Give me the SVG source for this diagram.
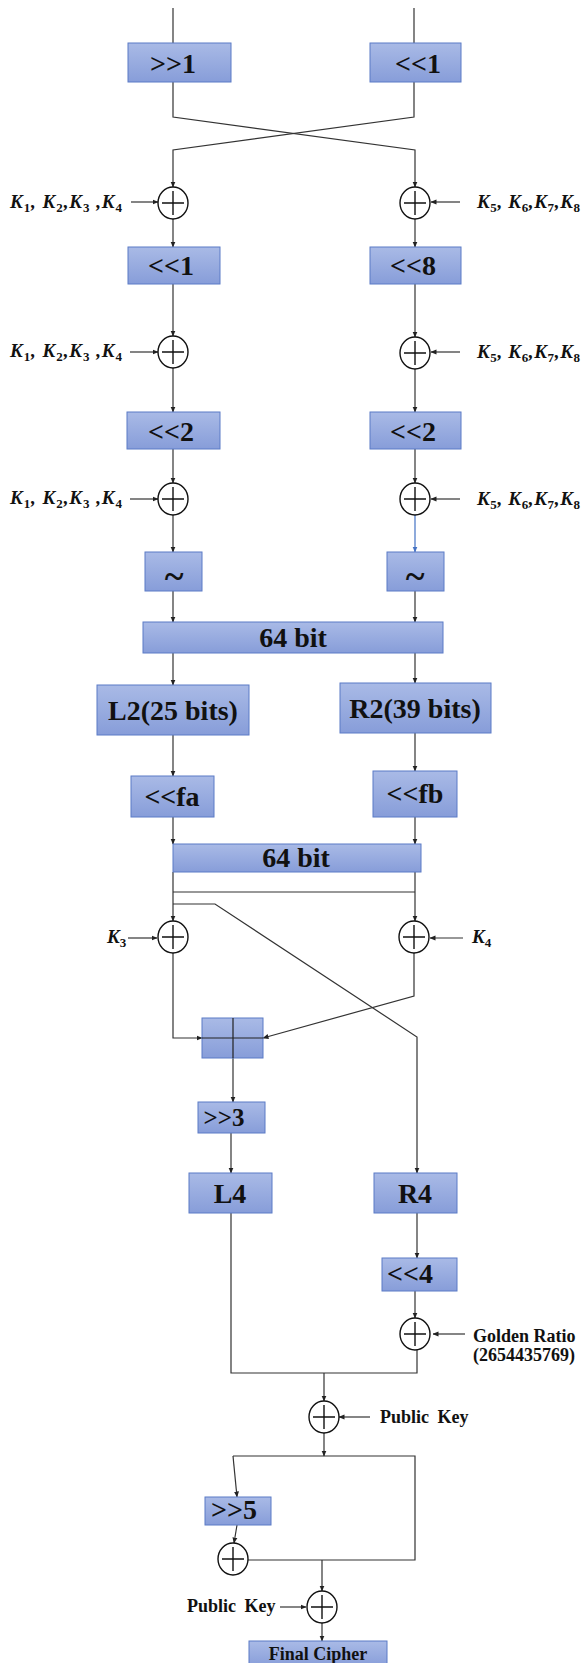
<svg xmlns="http://www.w3.org/2000/svg" width="583" height="1663" viewBox="0 0 583 1663">
<defs>
<linearGradient id="bg" x1="0" y1="0" x2="0" y2="1">
<stop offset="0" stop-color="#a9bae6"/>
<stop offset="1" stop-color="#879dd9"/>
</linearGradient>
<marker id="ah" markerUnits="userSpaceOnUse" markerWidth="6" markerHeight="6" refX="5.5" refY="3" orient="auto">
<path d="M0,0.5 L6,3 L0,5.5 z" fill="#222"/>
</marker>
<marker id="ahb" markerUnits="userSpaceOnUse" markerWidth="6" markerHeight="6" refX="5.5" refY="3" orient="auto">
<path d="M0,0.5 L6,3 L0,5.5 z" fill="#4472c4"/>
</marker>
</defs>
<style>
.box{fill:url(#bg);stroke:#5b7bc6;stroke-width:1}
.bt{font-family:"Liberation Serif","Times New Roman",serif;font-weight:bold;font-size:28px;fill:#111;text-anchor:middle}
.tl{font-size:36px}
.st{font-family:"Liberation Serif","Times New Roman",serif;font-weight:bold;font-size:18px;fill:#111}
.kl{font-family:"Liberation Serif","Times New Roman",serif;font-weight:bold;font-style:italic;font-size:19px;fill:#111}
.s{font-size:13px;font-style:normal}
.x{fill:#fff;stroke:#111;stroke-width:1.4}
.xp{stroke:#111;stroke-width:1.4}
.c{fill:none;stroke:#333;stroke-width:1.2}
.ca{fill:none;stroke:#333;stroke-width:1.2;marker-end:url(#ah)}
.cb{fill:none;stroke:#4472c4;stroke-width:1.2;marker-end:url(#ahb)}
</style>

<g id="connectors">
<path class="c" d="M173,8 V43"/>
<path class="c" d="M414,8 V43"/>
<path class="ca" d="M173,82 V117 L415,150 V187"/>
<path class="ca" d="M414,82 V117 L173,150 V187"/>
<path class="ca" d="M131,202 H158"/>
<path class="ca" d="M460,202 H431"/>
<path class="ca" d="M173,219 V247"/>
<path class="ca" d="M415,219 V247"/>
<path class="ca" d="M173,284 V336"/>
<path class="ca" d="M415,284 V337"/>
<path class="ca" d="M130,352 H158"/>
<path class="ca" d="M460,352 H431"/>
<path class="ca" d="M173,368 V412"/>
<path class="ca" d="M415,369 V412"/>
<path class="ca" d="M173,449 V483"/>
<path class="ca" d="M415,449 V483"/>
<path class="ca" d="M130,499 H158"/>
<path class="ca" d="M460,499 H431"/>
<path class="ca" d="M173,515 V552"/>
<path class="cb" d="M415,515 V552"/>
<path class="ca" d="M173,591 V622"/>
<path class="ca" d="M415,591 V622"/>
<path class="ca" d="M173,653 V685"/>
<path class="ca" d="M415,653 V683"/>
<path class="ca" d="M173,735 V776"/>
<path class="ca" d="M415,733 V771"/>
<path class="ca" d="M173,817 V844"/>
<path class="ca" d="M415,817 V844"/>
<path class="ca" d="M173,872 V921"/>
<path class="ca" d="M415,872 V921"/>
<path class="c" d="M173,892 H415"/>
<path class="ca" d="M173,904 H215 L417,1037 V1173"/>
<path class="ca" d="M128,938 H157"/>
<path class="ca" d="M463,938 H430"/>
<path class="ca" d="M173,953 V1038 H202"/>
<path class="ca" d="M414,953 V996 L263,1038"/>
<path class="ca" d="M233,1058 V1102"/>
<path class="ca" d="M231,1133 V1173"/>
<path class="ca" d="M417,1213 V1258"/>
<path class="ca" d="M415,1291 V1318"/>
<path class="ca" d="M465,1334 H433"/>
<path class="c" d="M231,1213 V1373 H417 V1350"/>
<path class="ca" d="M324,1373 V1401"/>
<path class="ca" d="M370,1417 H339"/>
<path class="ca" d="M324,1433 V1456"/>
<path class="c" d="M233,1456 H415 V1560 H248"/>
<path class="ca" d="M233,1456 L237,1497"/>
<path class="ca" d="M237,1525 L234,1543"/>
<path class="ca" d="M322,1560 V1591"/>
<path class="ca" d="M280,1607 H306"/>
<path class="ca" d="M322,1623 V1641"/>
</g>

<g id="n-shr1"><rect class="box" x="128" y="43" width="103" height="39"/><text class="bt" x="173" y="73">&gt;&gt;1</text></g>
<g id="n-shl1"><rect class="box" x="370" y="43" width="91" height="39"/><text class="bt" x="418" y="73">&lt;&lt;1</text></g>

<g id="n-x1l"><ellipse class="x" cx="173" cy="203" rx="15" ry="16"/><path class="xp" d="M162,203 H184 M173,191 V215"/></g>
<g id="n-x1r"><ellipse class="x" cx="415" cy="203" rx="15" ry="16"/><path class="xp" d="M404,203 H426 M415,191 V215"/></g>
<g id="n-k1l"><text class="kl" x="10" y="208" textLength="112" lengthAdjust="spacing">K<tspan class="s" dy="4">1</tspan><tspan dy="-4">, K</tspan><tspan class="s" dy="4">2</tspan><tspan dy="-4">,K</tspan><tspan class="s" dy="4">3</tspan><tspan dy="-4"> ,K</tspan><tspan class="s" dy="4">4</tspan></text></g>
<g id="n-k1r"><text class="kl" x="477" y="208" textLength="103" lengthAdjust="spacing">K<tspan class="s" dy="4">5</tspan><tspan dy="-4">, K</tspan><tspan class="s" dy="4">6</tspan><tspan dy="-4">,K</tspan><tspan class="s" dy="4">7</tspan><tspan dy="-4">,K</tspan><tspan class="s" dy="4">8</tspan></text></g>

<g id="n-shl1b"><rect class="box" x="128" y="247" width="92" height="37"/><text class="bt" x="171" y="275">&lt;&lt;1</text></g>
<g id="n-shl8"><rect class="box" x="370" y="247" width="91" height="37"/><text class="bt" x="413" y="275">&lt;&lt;8</text></g>

<g id="n-x2l"><ellipse class="x" cx="173" cy="352" rx="15" ry="16"/><path class="xp" d="M162,352 H184 M173,340 V364"/></g>
<g id="n-x2r"><ellipse class="x" cx="415" cy="353" rx="15" ry="16"/><path class="xp" d="M404,353 H426 M415,341 V365"/></g>
<g id="n-k2l"><text class="kl" x="10" y="357" textLength="112" lengthAdjust="spacing">K<tspan class="s" dy="4">1</tspan><tspan dy="-4">, K</tspan><tspan class="s" dy="4">2</tspan><tspan dy="-4">,K</tspan><tspan class="s" dy="4">3</tspan><tspan dy="-4"> ,K</tspan><tspan class="s" dy="4">4</tspan></text></g>
<g id="n-k2r"><text class="kl" x="477" y="358" textLength="103" lengthAdjust="spacing">K<tspan class="s" dy="4">5</tspan><tspan dy="-4">, K</tspan><tspan class="s" dy="4">6</tspan><tspan dy="-4">,K</tspan><tspan class="s" dy="4">7</tspan><tspan dy="-4">,K</tspan><tspan class="s" dy="4">8</tspan></text></g>

<g id="n-shl2a"><rect class="box" x="127" y="412" width="93" height="37"/><text class="bt" x="171" y="441">&lt;&lt;2</text></g>
<g id="n-shl2b"><rect class="box" x="370" y="412" width="91" height="37"/><text class="bt" x="413" y="441">&lt;&lt;2</text></g>

<g id="n-x3l"><ellipse class="x" cx="173" cy="499" rx="15" ry="16"/><path class="xp" d="M162,499 H184 M173,487 V511"/></g>
<g id="n-x3r"><ellipse class="x" cx="415" cy="499" rx="15" ry="16"/><path class="xp" d="M404,499 H426 M415,487 V511"/></g>
<g id="n-k3l"><text class="kl" x="10" y="504" textLength="112" lengthAdjust="spacing">K<tspan class="s" dy="4">1</tspan><tspan dy="-4">, K</tspan><tspan class="s" dy="4">2</tspan><tspan dy="-4">,K</tspan><tspan class="s" dy="4">3</tspan><tspan dy="-4"> ,K</tspan><tspan class="s" dy="4">4</tspan></text></g>
<g id="n-k3r"><text class="kl" x="477" y="505" textLength="103" lengthAdjust="spacing">K<tspan class="s" dy="4">5</tspan><tspan dy="-4">, K</tspan><tspan class="s" dy="4">6</tspan><tspan dy="-4">,K</tspan><tspan class="s" dy="4">7</tspan><tspan dy="-4">,K</tspan><tspan class="s" dy="4">8</tspan></text></g>

<g id="n-notl"><rect class="box" x="145" y="552" width="57" height="39"/><text class="bt tl" x="174" y="588">~</text></g>
<g id="n-notr"><rect class="box" x="387" y="552" width="57" height="39"/><text class="bt tl" x="415" y="588">~</text></g>

<g id="n-64a"><rect class="box" x="143" y="622" width="300" height="31"/><text class="bt" x="293" y="647">64 bit</text></g>

<g id="n-l2"><rect class="box" x="97" y="685" width="152" height="50"/><text class="bt" x="173" y="720">L2(25 bits)</text></g>
<g id="n-r2"><rect class="box" x="340" y="683" width="151" height="50"/><text class="bt" x="415" y="718">R2(39 bits)</text></g>

<g id="n-fa"><rect class="box" x="131" y="776" width="83" height="41"/><text class="bt" x="172" y="806">&lt;&lt;fa</text></g>
<g id="n-fb"><rect class="box" x="373" y="771" width="84" height="46"/><text class="bt" x="415" y="803">&lt;&lt;fb</text></g>

<g id="n-64b"><rect class="box" x="173" y="844" width="248" height="28"/><text class="bt" x="296" y="867">64 bit</text></g>

<g id="n-xk3"><ellipse class="x" cx="173" cy="937" rx="15" ry="16"/><path class="xp" d="M162,937 H184 M173,925 V949"/></g>
<g id="n-xk4"><ellipse class="x" cx="414" cy="937" rx="15" ry="16"/><path class="xp" d="M403,937 H425 M414,925 V949"/></g>
<g id="n-k3"><text class="kl" x="107" y="943">K<tspan class="s" dy="4">3</tspan></text></g>
<g id="n-k4"><text class="kl" x="472" y="943">K<tspan class="s" dy="4">4</tspan></text></g>

<g id="n-mix"><rect class="box" x="202" y="1018" width="61" height="40"/><path d="M233,1018 V1058 M202,1038 H263" stroke="#222" stroke-width="1.2"/></g>

<g id="n-shr3"><rect class="box" x="198" y="1102" width="67" height="31"/><text class="bt" x="224" y="1126" style="font-size:25px">&gt;&gt;3</text></g>

<g id="n-l4"><rect class="box" x="189" y="1173" width="83" height="40"/><text class="bt" x="230" y="1203">L4</text></g>
<g id="n-r4"><rect class="box" x="374" y="1173" width="83" height="40"/><text class="bt" x="415" y="1203">R4</text></g>

<g id="n-shl4"><rect class="box" x="382" y="1258" width="75" height="33"/><text class="bt" x="410" y="1283">&lt;&lt;4</text></g>

<g id="n-xg"><ellipse class="x" cx="415" cy="1334" rx="15" ry="16"/><path class="xp" d="M404,1334 H426 M415,1322 V1346"/></g>
<g id="n-golden"><text class="st" x="473" y="1342">Golden Ratio</text><text class="st" x="473" y="1361">(2654435769)</text></g>

<g id="n-xpk1"><ellipse class="x" cx="324" cy="1417" rx="15" ry="16"/><path class="xp" d="M313,1417 H335 M324,1405 V1429"/></g>
<g id="n-pk1"><text class="st" x="380" y="1423" style="word-spacing:4px">Public Key</text></g>

<g id="n-shr5"><rect class="box" x="205" y="1497" width="66" height="28"/><text class="bt" x="234" y="1519">&gt;&gt;5</text></g>

<g id="n-x5"><ellipse class="x" cx="233" cy="1559" rx="15" ry="16"/><path class="xp" d="M222,1559 H244 M233,1547 V1571"/></g>

<g id="n-xpk2"><ellipse class="x" cx="322" cy="1607" rx="15" ry="16"/><path class="xp" d="M311,1607 H333 M322,1595 V1619"/></g>
<g id="n-pk2"><text class="st" x="187" y="1612" style="word-spacing:4px">Public Key</text></g>

<g id="n-final"><rect class="box" x="249" y="1641" width="138" height="26"/><text class="bt" x="318" y="1660" style="font-size:18px">Final Cipher</text></g>
</svg>
